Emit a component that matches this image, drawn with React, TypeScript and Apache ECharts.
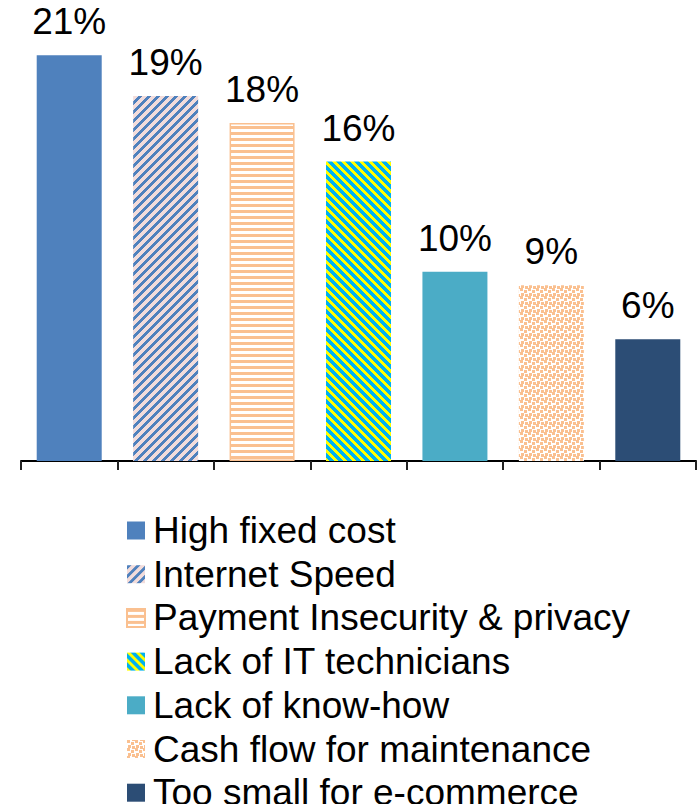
import React, { useEffect, useRef } from "react";
import * as echarts from "echarts";

const categories = [
  "High fixed cost",
  "Internet Speed",
  "Payment Insecurity & privacy",
  "Lack of IT technicians",
  "Lack of know-how",
  "Cash flow for maintenance",
  "Too small for e-commerce",
];
const values = [21.0, 18.9, 17.5, 15.5, 9.8, 9.1, 6.3];

function makeTile(size: number, bg: string, fg: string, test: (x: number, y: number) => boolean) {
  const c = document.createElement("canvas");
  c.width = size;
  c.height = size;
  const ctx = c.getContext("2d")!;
  ctx.fillStyle = bg;
  ctx.fillRect(0, 0, size, size);
  ctx.fillStyle = fg;
  for (let y = 0; y < size; y++) {
    for (let x = 0; x < size; x++) {
      if (test(x, y)) ctx.fillRect(x, y, 1, 1);
    }
  }
  return c;
}

export default function App() {
  const ref = useRef<HTMLDivElement>(null);
  useEffect(() => {
    if (!ref.current) return;
    const chart = echarts.init(ref.current, null, { renderer: "svg" });

    const internet = makeTile(9, "#F2DCDB", "#4F81BD", (x, y) => (x + y) % 9 < 4);
    const payment = makeTile(6, "#FFFFFF", "#FAC090", (_x, y) => y < 3);
    const itTech = makeTile(9, "#00B0F0", "#FFFF00", (x, y) => (x - y + 9) % 9 < 4);
    const cash = makeTile(8, "#FFFFFF", "#FAC090", (x, y) => {
      const sq = (ox: number, oy: number) => {
        const dx = (x - ox + 8) % 8;
        const dy = (y - oy + 8) % 8;
        return dx < 3 && dy < 3;
      };
      return sq(0, 0) || sq(4, 2) || sq(1, 5) || sq(5, 6);
    });

    const styles: any[] = [
      { color: "#4F81BD" },
      { color: { image: internet, repeat: "repeat" } },
      { color: { image: payment, repeat: "repeat" }, borderColor: "#FAC090", borderWidth: 1.5 },
      { color: { image: itTech, repeat: "repeat" } },
      { color: "#4BACC6" },
      { color: { image: cash, repeat: "repeat" } },
      { color: "#2C4D75" },
    ];

    const font = "Liberation Sans, Arial, Helvetica, sans-serif";

    const series = categories.map((name, i) => ({
      name,
      type: "bar",
      stack: "all",
      barWidth: 65,
      data: values.map((v, j) => (j === i ? v : "-")),
      itemStyle: styles[i],
      label: {
        show: true,
        position: "top",
        distance: 15,
        color: "#000",
        fontSize: 37,
        fontFamily: font,
        formatter: (p: any) => Math.round(p.value) + "%",
      },
    }));

    chart.setOption({
      animation: false,
      backgroundColor: "#fff",
      grid: { left: 21, right: 1, top: 36, bottom: 343 },
      xAxis: {
        type: "category",
        data: categories,
        axisLine: { show: true, lineStyle: { color: "#000", width: 2 } },
        axisTick: { show: true, interval: 0, length: 9, lineStyle: { color: "#222", width: 2 } },
        axisLabel: { show: false, interval: 0 },
        splitLine: { show: false },
      },
      yAxis: {
        type: "value",
        min: 0,
        max: 22,
        show: false,
      },
      legend: {
        orient: "vertical",
        left: 126,
        top: 512,
        height: 340,
        padding: 0,
        itemWidth: 18,
        itemHeight: 18,
        itemGap: 6.7,
        icon: "rect",
        data: categories,
        textStyle: {
          fontSize: 37,
          lineHeight: 37,
          color: "#000",
          fontFamily: font,
          padding: [0, 0, 0, 3],
        },
      },
      series,
    });
    return () => chart.dispose();
  }, []);
  return (
    <div
      ref={ref}
      style={{ position: "fixed", left: 0, top: 0, width: 697, height: 804, background: "#fff" }}
    />
  );
}
